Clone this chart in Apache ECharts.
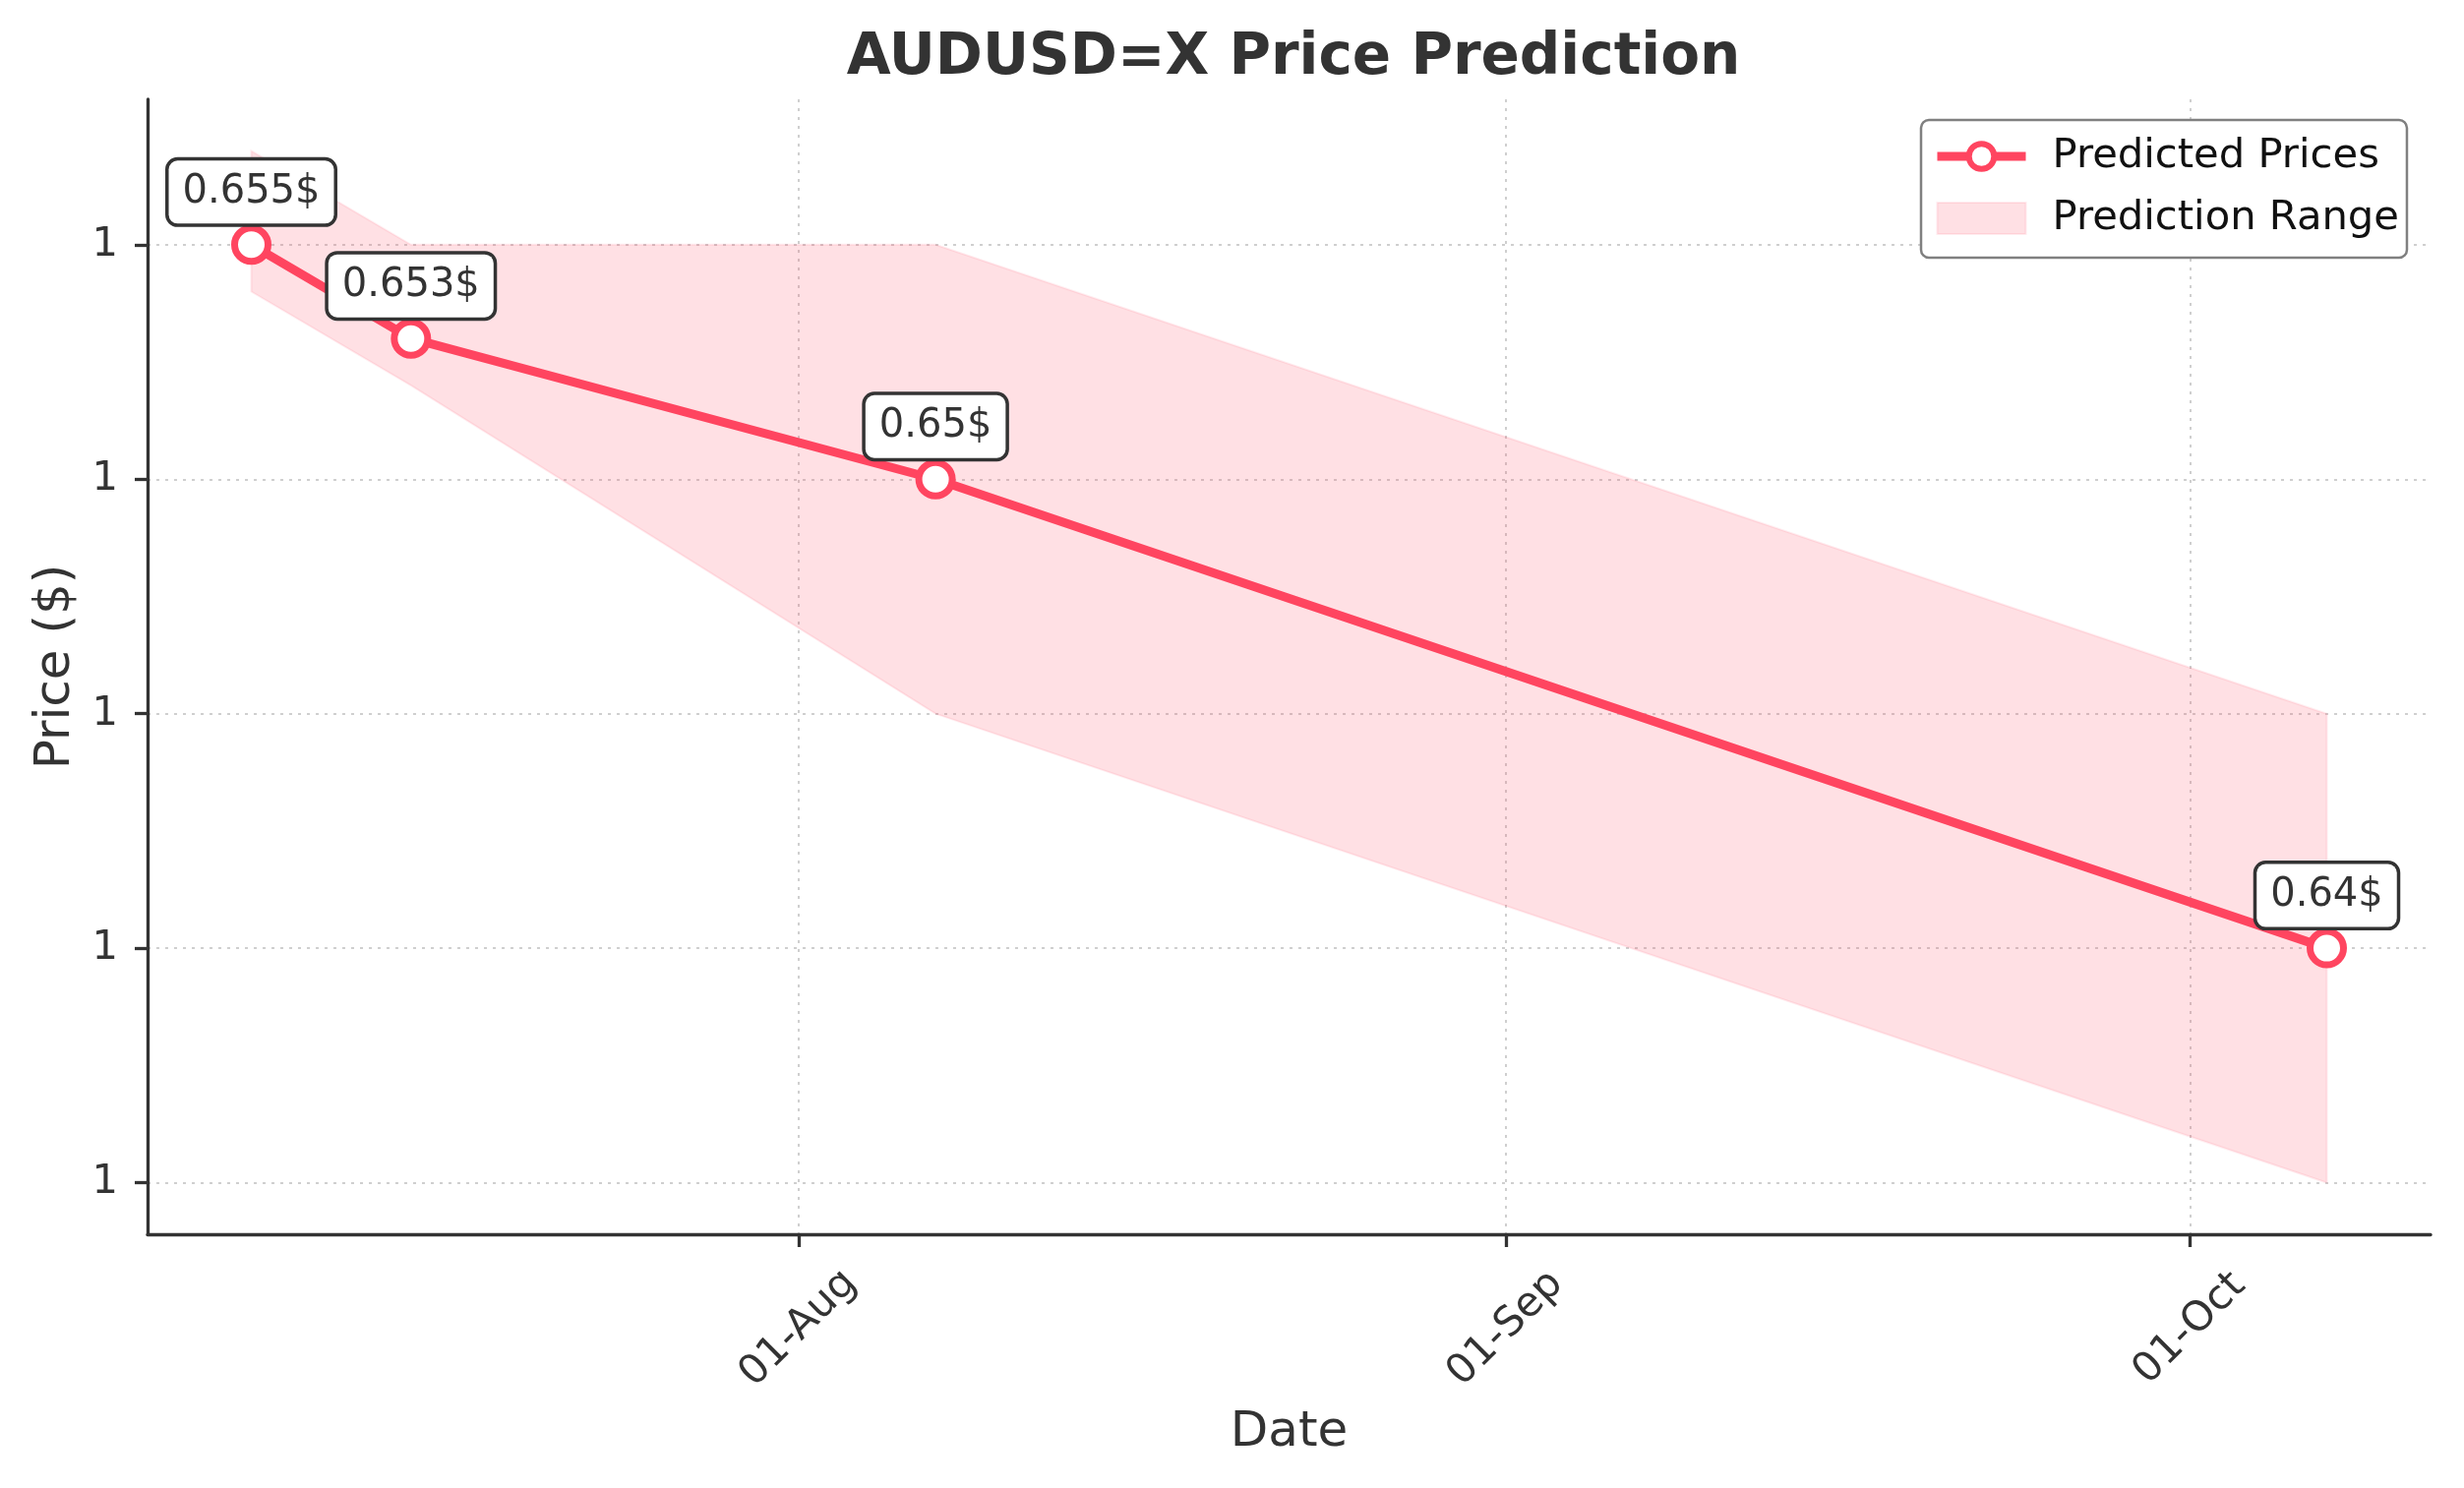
<!DOCTYPE html>
<html>
<head>
<meta charset="utf-8">
<script src="https://cdn.jsdelivr.net/npm/echarts@6/dist/echarts.min.js"></script>
<style>
html,body{margin:0;padding:0;background:#fff;}
#chart{width:2505px;height:1513px;}
</style>
</head>
<body>
<div id="chart"></div>
<script>
// ---- data ----
const dates = ['2024-07-08', '2024-07-15', '2024-08-07', '2024-10-07'];
const predicted = [0.655, 0.653, 0.65, 0.64];
const lowerBound = [0.654, 0.652, 0.645, 0.635];
const upperBound = [0.657, 0.655, 0.655, 0.645];
const xTickDates = ['2024-08-01', '2024-09-01', '2024-10-01'];
const yTickValues = [0.635, 0.64, 0.645, 0.65, 0.655];
const monthNames = ['Jan','Feb','Mar','Apr','May','Jun','Jul','Aug','Sep','Oct','Nov','Dec'];

function toTime(s) {
  const p = s.split('-').map(Number);
  return new Date(p[0], p[1] - 1, p[2]).getTime();
}
const times = dates.map(toTime);
const xSpan = times[times.length - 1] - times[0];
const xMin = times[0] - xSpan * 0.05;
const xMax = times[times.length - 1] + xSpan * 0.05;
const yLo = Math.min.apply(null, lowerBound);
const yHi = Math.max.apply(null, upperBound);
const yMin = yLo - (yHi - yLo) * 0.05;
const yMax = yHi + (yHi - yLo) * 0.05;

const RED = '#FF4560';
const BAND = 'rgba(255,69,96,0.17)';
const BAND_EDGE = 'rgba(255,69,96,0.10)';
const FONT = 'DejaVu Sans';
const gridLine = { show: true, lineStyle: { color: '#cfcfcf', width: 2, type: [3, 6] } };

const chart = echarts.init(document.getElementById('chart'), null, { renderer: 'canvas' });
chart.setOption({
  animation: false,
  backgroundColor: '#fff',
  textStyle: { fontFamily: FONT },
  title: {
    text: 'AUDUSD=X Price Prediction',
    left: 1310, top: 26, textAlign: 'center',
    textStyle: { fontFamily: FONT, fontSize: 58, fontWeight: 'bold', color: '#333' }
  },
  grid: { left: 150, right: 34, top: 101, bottom: 258, containLabel: false },
  legend: {
    orient: 'vertical',
    left: 1953, top: 122,
    padding: [13, 8, 16, 12],
    itemWidth: 90, itemHeight: 32, itemGap: 15,
    backgroundColor: '#fff',
    borderColor: '#808080', borderWidth: 2.5, borderRadius: 8,
    textStyle: { fontFamily: FONT, fontSize: 41.7, color: '#111', lineHeight: 48, padding: [0, 0, 0, 22] },
    data: [
      { name: 'Predicted Prices', itemStyle: { color: '#fff', borderColor: RED, borderWidth: 6 }, lineStyle: { color: RED, width: 9 } },
      { name: 'Prediction Range', icon: 'rect', itemStyle: { color: BAND, borderColor: BAND_EDGE, borderWidth: 2 } }
    ]
  },
  xAxis: {
    type: 'value',
    min: xMin, max: xMax,
    name: 'Date', nameLocation: 'middle', nameGap: 177,
    nameTextStyle: { fontFamily: FONT, fontSize: 50, color: '#333' },
    axisLine: { show: true, lineStyle: { color: '#333', width: 3.3 } },
    axisTick: { show: true, length: 13, lineStyle: { color: '#333', width: 3.3 }, customValues: xTickDates.map(toTime) },
    axisLabel: {
      customValues: xTickDates.map(toTime),
      rotate: 45, align: 'center', verticalAlign: 'middle', margin: 96,
      fontFamily: FONT, fontSize: 41.7, color: '#333',
      formatter: function (v) {
        const d = new Date(v);
        const dd = (d.getDate() < 10 ? '0' : '') + d.getDate();
        return dd + '-' + monthNames[d.getMonth()];
      }
    },
    splitLine: gridLine
  },
  yAxis: {
    type: 'value',
    min: yMin, max: yMax,
    name: 'Price ($)', nameLocation: 'middle', nameGap: 68, nameRotate: 90,
    nameTextStyle: { fontFamily: FONT, fontSize: 50, color: '#333' },
    axisLine: { show: true, lineStyle: { color: '#333', width: 3.3 } },
    axisTick: { show: true, length: 13, lineStyle: { color: '#333', width: 3.3 }, customValues: yTickValues },
    axisLabel: {
      customValues: yTickValues,
      margin: 30, fontFamily: FONT, fontSize: 41.7, color: '#333',
      formatter: function (v) { return v.toFixed(0); }
    },
    splitLine: gridLine
  },
  series: [
    {
      name: 'Prediction Range',
      type: 'custom',
      silent: true,
      z: 1,
      itemStyle: { color: BAND },
      encode: { x: 0, y: [1, 2] },
      data: times.map((t, i) => [t, lowerBound[i], upperBound[i]]),
      renderItem: function (params, api) {
        if (params.dataIndex !== 0) return null;
        const pts = [];
        for (let i = 0; i < times.length; i++) pts.push(api.coord([times[i], upperBound[i]]));
        for (let i = times.length - 1; i >= 0; i--) pts.push(api.coord([times[i], lowerBound[i]]));
        return {
          type: 'polygon',
          shape: { points: pts },
          style: { fill: BAND, stroke: BAND_EDGE, lineWidth: 2 }
        };
      }
    },
    {
      name: 'Predicted Prices',
      type: 'line',
      data: times.map((t, i) => [t, predicted[i]]),
      symbol: 'circle', symbolSize: 34,
      lineStyle: { color: RED, width: 9 },
      itemStyle: { color: '#fff', borderColor: RED, borderWidth: 7 },
      z: 5,
      label: {
        show: true, position: 'top', distance: 1,
        formatter: function (p) { return p.value[1] + '$'; },
        fontFamily: FONT, fontSize: 40, color: '#333', lineHeight: 42,
        backgroundColor: '#fff', borderColor: '#333', borderWidth: 3.5, borderRadius: 9,
        padding: [11, 14]
      }
    }
  ]
});
</script>
</body>
</html>
